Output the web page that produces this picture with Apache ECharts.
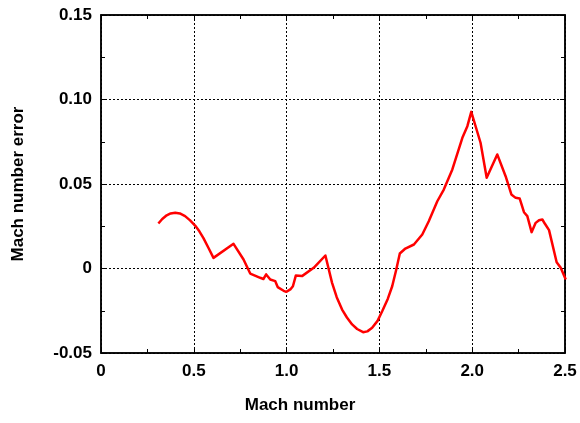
<!DOCTYPE html>
<html>
<head>
<meta charset="utf-8">
<script src="https://cdn.jsdelivr.net/npm/echarts@6/dist/echarts.min.js"></script>
<style>
html, body { margin: 0; padding: 0; background: #fff; }
#errChart { width: 580px; height: 423px; }
</style>
</head>
<body>
<div id="errChart"></div>
<script>
// Mach number (x) and error (y)
var machValues = [0.309, 0.33, 0.354, 0.375, 0.40, 0.425, 0.453, 0.48, 0.507, 0.53, 0.552, 0.58, 0.606, 0.714, 0.768, 0.804, 0.858, 0.875, 0.89, 0.912, 0.939, 0.952, 0.984, 0.998, 1.02, 1.034, 1.05, 1.083, 1.146, 1.209, 1.245, 1.27, 1.299, 1.325, 1.353, 1.38, 1.412, 1.435, 1.461, 1.49, 1.515, 1.545, 1.569, 1.59, 1.61, 1.64, 1.686, 1.731, 1.766, 1.812, 1.847, 1.893, 1.947, 1.974, 1.995, 2.045, 2.078, 2.135, 2.18, 2.211, 2.234, 2.256, 2.279, 2.297, 2.32, 2.342, 2.36, 2.378, 2.391, 2.414, 2.455, 2.477, 2.504];
var errorValues = [0.0266, 0.0293, 0.0315, 0.0326, 0.033, 0.0326, 0.031, 0.0285, 0.0254, 0.022, 0.018, 0.012, 0.0063, 0.0146, 0.0053, -0.003, -0.0055, -0.0062, -0.0035, -0.0065, -0.0075, -0.011, -0.0132, -0.0138, -0.0124, -0.0105, -0.0041, -0.0045, 0.0004, 0.0077, -0.0085, -0.017, -0.0243, -0.029, -0.0331, -0.0358, -0.0377, -0.0372, -0.0351, -0.031, -0.0253, -0.018, -0.0105, -0.001, 0.0089, 0.0118, 0.0142, 0.0201, 0.028, 0.0398, 0.0467, 0.0586, 0.0773, 0.0842, 0.0927, 0.0744, 0.0537, 0.0675, 0.0546, 0.0438, 0.0418, 0.0414, 0.0333, 0.031, 0.0215, 0.027, 0.0286, 0.029, 0.0266, 0.0227, 0.0037, 0.0004, -0.0065];

var xTickLabels = ['0', '0.5', '1.0', '1.5', '2.0', '2.5'];
var yTickLabels = {'0.15': '0.15', '0.1': '0.10', '0.05': '0.05', '0': '0', '-0.05': '-0.05'};

var lineData = [];
for (var i = 0; i < machValues.length; i++) {
	lineData.push([machValues[i], errorValues[i]]);
}

var labelFont = { color: '#000', fontFamily: 'Liberation Sans, Arial, sans-serif', fontWeight: 'bold', fontSize: 17 };

var errChart = echarts.init(document.getElementById('errChart'));
var errOption = {
	animation: false,
	grid: { left: 101, right: 15, top: 15, bottom: 70, show: true, borderColor: '#000', borderWidth: 1.5 },
	xAxis: [{
		type: 'value', min: 0, max: 2.5, interval: 0.5,
		name: 'Mach number', nameLocation: 'middle', nameGap: 44,
		nameTextStyle: { color: '#000', fontFamily: 'Liberation Sans, Arial, sans-serif', fontWeight: 'bold', fontSize: 17, padding: [0, 66, 0, 0] },
		axisLine: { show: true, onZero: false, lineStyle: { color: '#000', width: 1.5 } },
		axisTick: { inside: true, length: 5, lineStyle: { color: '#000' } },
		minorTick: { show: true, splitNumber: 2, length: 4, lineStyle: { color: '#000' } },
		splitLine: { show: true, lineStyle: { color: '#000', type: [2, 2], width: 1 } },
		axisLabel: Object.assign({ margin: 10, formatter: function (v) { return xTickLabels[Math.round(v / 0.5)]; } }, labelFont)
	}, {
		type: 'value', min: 0, max: 2.5, interval: 0.5, position: 'top',
		axisLine: { show: true, onZero: false, lineStyle: { color: '#000', width: 1.5 } },
		axisTick: { inside: true, length: 5, lineStyle: { color: '#000' } },
		minorTick: { show: true, splitNumber: 2, length: 4, lineStyle: { color: '#000' } },
		splitLine: { show: false },
		axisLabel: { show: false }
	}],
	yAxis: [{
		type: 'value', min: -0.05, max: 0.15, interval: 0.05,
		name: 'Mach number error', nameLocation: 'middle', nameGap: 74, nameRotate: 90,
		nameTextStyle: { color: '#000', fontFamily: 'Liberation Sans, Arial, sans-serif', fontWeight: 'bold', fontSize: 17 },
		axisLine: { show: true, onZero: false, lineStyle: { color: '#000', width: 1.5 } },
		axisTick: { inside: true, length: 5, lineStyle: { color: '#000' } },
		minorTick: { show: true, splitNumber: 2, length: 4, lineStyle: { color: '#000' } },
		splitLine: { show: true, lineStyle: { color: '#000', type: [2, 2], width: 1 } },
		axisLabel: Object.assign({ margin: 9, formatter: function (v) { return yTickLabels[String(Math.round(v * 100) / 100)]; } }, labelFont)
	}, {
		type: 'value', min: -0.05, max: 0.15, interval: 0.05, position: 'right',
		axisLine: { show: true, onZero: false, lineStyle: { color: '#000', width: 1.5 } },
		axisTick: { inside: true, length: 5, lineStyle: { color: '#000' } },
		minorTick: { show: true, splitNumber: 2, length: 4, lineStyle: { color: '#000' } },
		splitLine: { show: false },
		axisLabel: { show: false }
	}],
	series: [{
		name: 'error',
		type: 'line',
		data: lineData,
		showSymbol: false,
		smooth: false,
		lineStyle: { color: '#ff0000', width: 2.5, join: 'round' }
	}]
};
errChart.setOption(errOption);
</script>
</body>
</html>
